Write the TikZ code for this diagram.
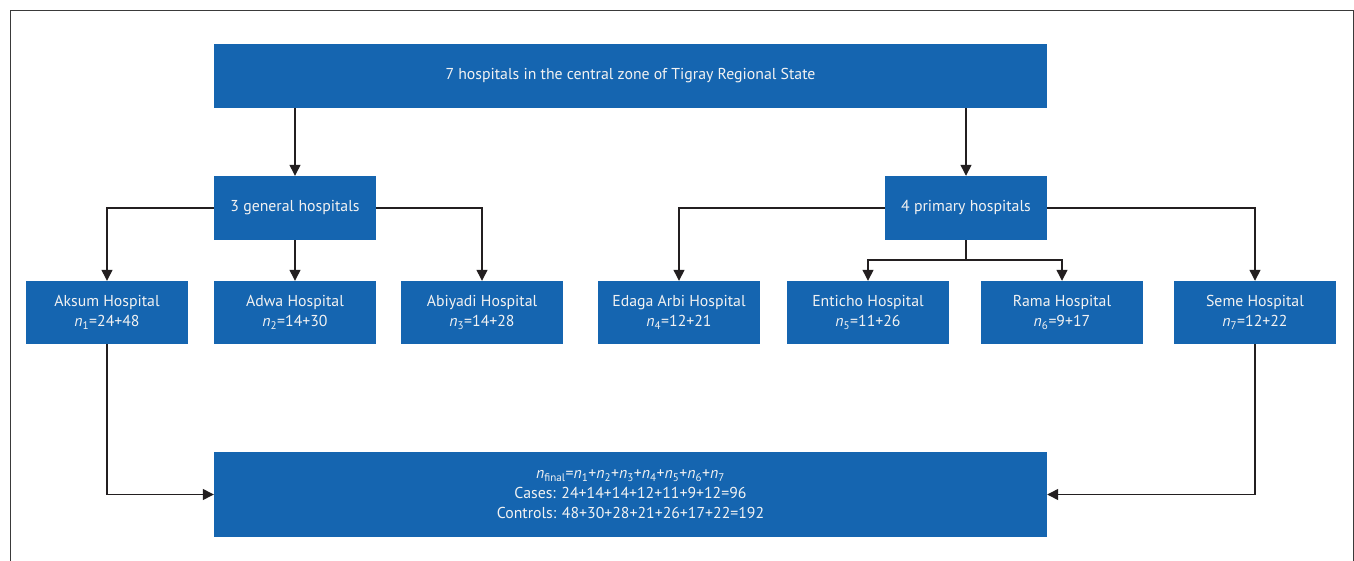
\documentclass[tikz,border=0pt]{standalone}
\usepackage{fontspec}
\setmainfont{PT Sans}
\usetikzlibrary{arrows.meta}
\definecolor{boxblue}{HTML}{1565B0}
\definecolor{linegray}{HTML}{231F20}
\definecolor{framegray}{HTML}{3A3A3A}
\definecolor{txt}{HTML}{F2F2F2}
\begin{document}
\begin{tikzpicture}[x=1pt,y=-1pt,
  box/.style={fill=boxblue,draw=none,text=txt,align=center,inner sep=0pt,
    font=\fontsize{15.8}{20}\selectfont},
  arr/.style={draw=linegray,line width=1.3pt,-{Triangle[length=11pt,width=11pt]}},
  ln/.style={draw=linegray,line width=1.3pt}]
\useasboundingbox (0,0) rectangle (1354,561);
\draw[framegray,line width=1pt] (10,561) -- (10,11) -- (1353,11) -- (1353,561);
\node[box,minimum width=833pt,minimum height=64pt] (top) at (630.5,76) {7 hospitals in the central zone of Tigray Regional State};
\node[box,minimum width=162pt,minimum height=64pt] (gen) at (295,208) {3 general hospitals};
\node[box,minimum width=162pt,minimum height=64pt] (pri) at (966,208) {4 primary hospitals};
\tikzset{hb/.style={box,minimum width=162pt,minimum height=63pt}}
\node[hb] (aksum) at (107,312.5) {Aksum Hospital\\\textit{n}\textsubscript{1}=24+48};
\node[hb] (adwa) at (295,312.5) {Adwa Hospital\\\textit{n}\textsubscript{2}=14+30};
\node[hb] (abiy) at (482,312.5) {Abiyadi Hospital\\\textit{n}\textsubscript{3}=14+28};
\node[hb] (edaga) at (679,312.5) {Edaga Arbi Hospital\\\textit{n}\textsubscript{4}=12+21};
\node[hb] (ent) at (868,312.5) {Enticho Hospital\\\textit{n}\textsubscript{5}=11+26};
\node[hb] (rama) at (1062,312.5) {Rama Hospital\\\textit{n}\textsubscript{6}=9+17};
\node[hb] (seme) at (1255,312.5) {Seme Hospital\\\textit{n}\textsubscript{7}=12+22};
\node[box,minimum width=833pt,minimum height=85pt] (final) at (630.5,494.5)
  {\textit{n}\textsubscript{final}=\textit{n}\textsubscript{1}+\textit{n}\textsubscript{2}+\textit{n}\textsubscript{3}+\textit{n}\textsubscript{4}+\textit{n}\textsubscript{5}+\textit{n}\textsubscript{6}+\textit{n}\textsubscript{7}\\
   Cases: 24+14+14+12+11+9+12=96\\
   Controls: 48+30+28+21+26+17+22=192};
\draw[arr] (top.south -| gen) -- (gen.north);
\draw[arr] (top.south -| pri) -- (pri.north);
\draw[arr] (gen.west) -| (aksum.north);
\draw[arr] (gen.south) -- (adwa.north);
\draw[arr] (gen.east) -| (abiy.north);
\draw[arr] (pri.west) -| (edaga.north);
\draw[arr] (pri.east) -| (seme.north);
\coordinate (pj) at (966,260);
\draw[ln] (pri.south) -- (pj);
\draw[arr] (pj) -| (ent.north);
\draw[arr] (pj) -| (rama.north);
\draw[arr] (aksum.south) |- (final.west);
\draw[arr] (seme.south) |- (final.east);
\end{tikzpicture}
\end{document}
